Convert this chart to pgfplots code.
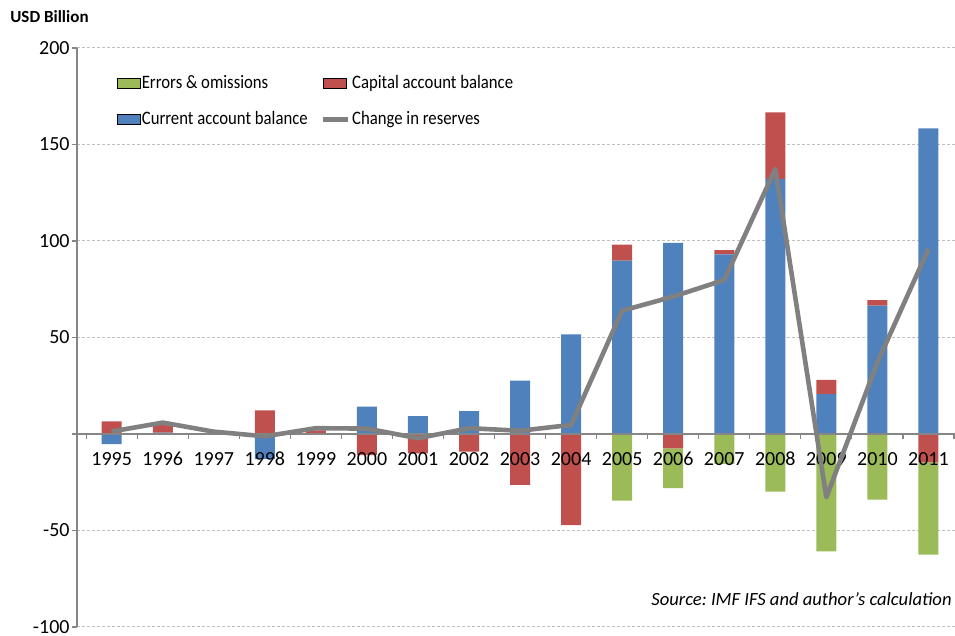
\documentclass[border=0pt]{standalone}
\usepackage{fontspec}
\setmainfont{Carlito}
\newfontfamily\legfont[FakeStretch=0.88]{Carlito}
\usepackage{pgfplots}
\usepackage{pgfplotstable}
\pgfplotsset{compat=1.18}
\definecolor{eogreen}{HTML}{9BBB59}
\definecolor{kared}{HTML}{C0504D}
\definecolor{cablue}{HTML}{4F81BD}
\definecolor{resgray}{HTML}{808080}
\definecolor{axisgray}{HTML}{868686}
\definecolor{gridgray}{HTML}{BFBFBF}

% original values (USD billion)
\pgfplotstableread{
x year ca ka eo res
0 1995 -5.3 6.5 0 1.3
1 1996 0.7 4.5 0 5.9
2 1997 0 0 0 1.2
3 1998 -13.0 12.3 0 -1.2
4 1999 0 1.9 0 3.0
5 2000 14.2 -11.0 0 2.8
6 2001 9.2 -10.0 0 -2.2
7 2002 11.8 -9.2 0 3.0
8 2003 27.6 -26.4 0 1.7
9 2004 51.6 -47.2 0 4.7
10 2005 89.8 8.3 -34.5 63.9
11 2006 99.0 -7.4 -20.6 71.2
12 2007 93.1 2.2 -15.5 79.8
13 2008 132.1 34.6 -29.9 137.3
14 2009 20.7 7.3 -60.8 -32.8
15 2010 66.5 2.8 -34.0 37.1
16 2011 158.4 -14.7 -47.8 95.9
}\data
% positive parts (stacked upward)
\pgfplotstableread{
x ca ka
0 0 6.5
1 0.7 4.5
2 0 0
3 0 12.3
4 0 1.9
5 14.2 0
6 9.2 0
7 11.8 0
8 27.6 0
9 51.6 0
10 89.8 8.3
11 99.0 0
12 93.1 2.2
13 132.1 34.6
14 20.7 7.3
15 66.5 2.8
16 158.4 0
}\pos
% negative parts (stacked downward)
\pgfplotstableread{
x ca ka eo
0 -5.3 0 0
1 0 0 0
2 0 0 0
3 -13.0 0 0
4 0 0 0
5 0 -11.0 0
6 0 -10.0 0
7 0 -9.2 0
8 0 -26.4 0
9 0 -47.2 0
10 0 0 -34.5
11 0 -7.4 -20.6
12 0 0 -15.5
13 0 0 -29.9
14 0 0 -60.8
15 0 0 -34.0
16 0 -14.7 -47.8
}\neg

\pgfplotsset{
  common/.style={width=439pt,height=289.5pt,scale only axis,
    xmin=-0.68,xmax=16.52,ymin=-100,ymax=200},
  legbar/.style={legend image code/.code={\fill[##1] (0pt,-2.5pt) rectangle (11.5pt,2.5pt);}},
  legline/.style={legend image code/.code={\draw[##1] (0pt,0pt) -- (12.5pt,0pt);}},
}

\begin{document}
\begin{tikzpicture}
\path[use as bounding box] (-38.5pt,-4.5pt) rectangle (439pt,313.5pt);
% grid + positive stack
\begin{axis}[common, ybar stacked, bar width=10pt,
  axis line style={draw=none}, major tick length=0pt,
  ytick={-100,-50,...,200}, yticklabels={}, xtick=\empty,
  ymajorgrids, major grid style={gridgray, dash pattern=on 1.5pt off 1pt, line width=0.5pt}]
  \addplot[fill=cablue, draw=none] table[x=x,y=ca]{\pos};
  \addplot[fill=kared, draw=none] table[x=x,y=ka]{\pos};
\end{axis}
% negative stack
\begin{axis}[common, ybar stacked, bar width=10pt, hide axis]
  \addplot[fill=cablue, draw=none] table[x=x,y=ca]{\neg};
  \addplot[fill=kared, draw=none] table[x=x,y=ka]{\neg};
  \addplot[fill=eogreen, draw=none] table[x=x,y=eo]{\neg};
\end{axis}
% axes, labels, line, legend
\begin{axis}[common,
  axis x line=middle, axis y line=left,
  axis line style={-, draw=axisgray, line width=0.6pt},
  xtick={0,...,16},
  xticklabels={1995,1996,1997,1998,1999,2000,2001,2002,2003,2004,2005,2006,2007,2008,2009,2010,2011},
  minor xtick={-0.5,0.5,...,16.5},
  major x tick style={draw=none},
  minor x tick style={draw=axisgray, line width=0.6pt},
  xtick align=outside, ytick align=outside,
  major tick length=2.5pt, minor tick length=2.5pt,
  ytick={-100,-50,0,50,100,150,200},
  yticklabels={-100,-50,,50,100,150,200},
  y tick style={draw=axisgray, line width=0.6pt},
  /pgf/number format/assume math mode=true,
  tick label style={font=\fontsize{10}{12}\selectfont},
  xticklabel style={yshift=-3pt},
  yticklabel style={xshift=2.3pt},
  legend columns=2, legend cell align=left,
  legend style={draw=none, fill=none, at={(0.0447,0.9566)}, anchor=north west,
    inner sep=0pt, row sep=8.7pt, font=\legfont\fontsize{9.5}{11}\selectfont,
    nodes={inner sep=0.7pt},
    /tikz/every even column/.append style={column sep=6pt}},
]
  \addlegendimage{legbar, fill=eogreen}
  \addlegendentry{Errors \& omissions}
  \addlegendimage{legbar, fill=kared}
  \addlegendentry{Capital account balance}
  \addlegendimage{legbar, fill=cablue}
  \addlegendentry{Current account balance}
  \addplot[legline, draw=resgray, line width=2.3pt, line join=round] table[x=x,y=res]{\data};
  \addlegendentry{Change in reserves}
  \node[anchor=east, inner sep=0pt, font=\itshape\fontsize{9.3}{11}\selectfont]
    at (rel axis cs:0.9966,0.0484) {Source:\ IMF IFS and author’s calculation};
\end{axis}
\node[anchor=west, inner sep=0pt, font=\bfseries\fontsize{8.5}{10}\selectfont] at (-33.5pt,305pt) {USD Billion};
\end{tikzpicture}
\end{document}
